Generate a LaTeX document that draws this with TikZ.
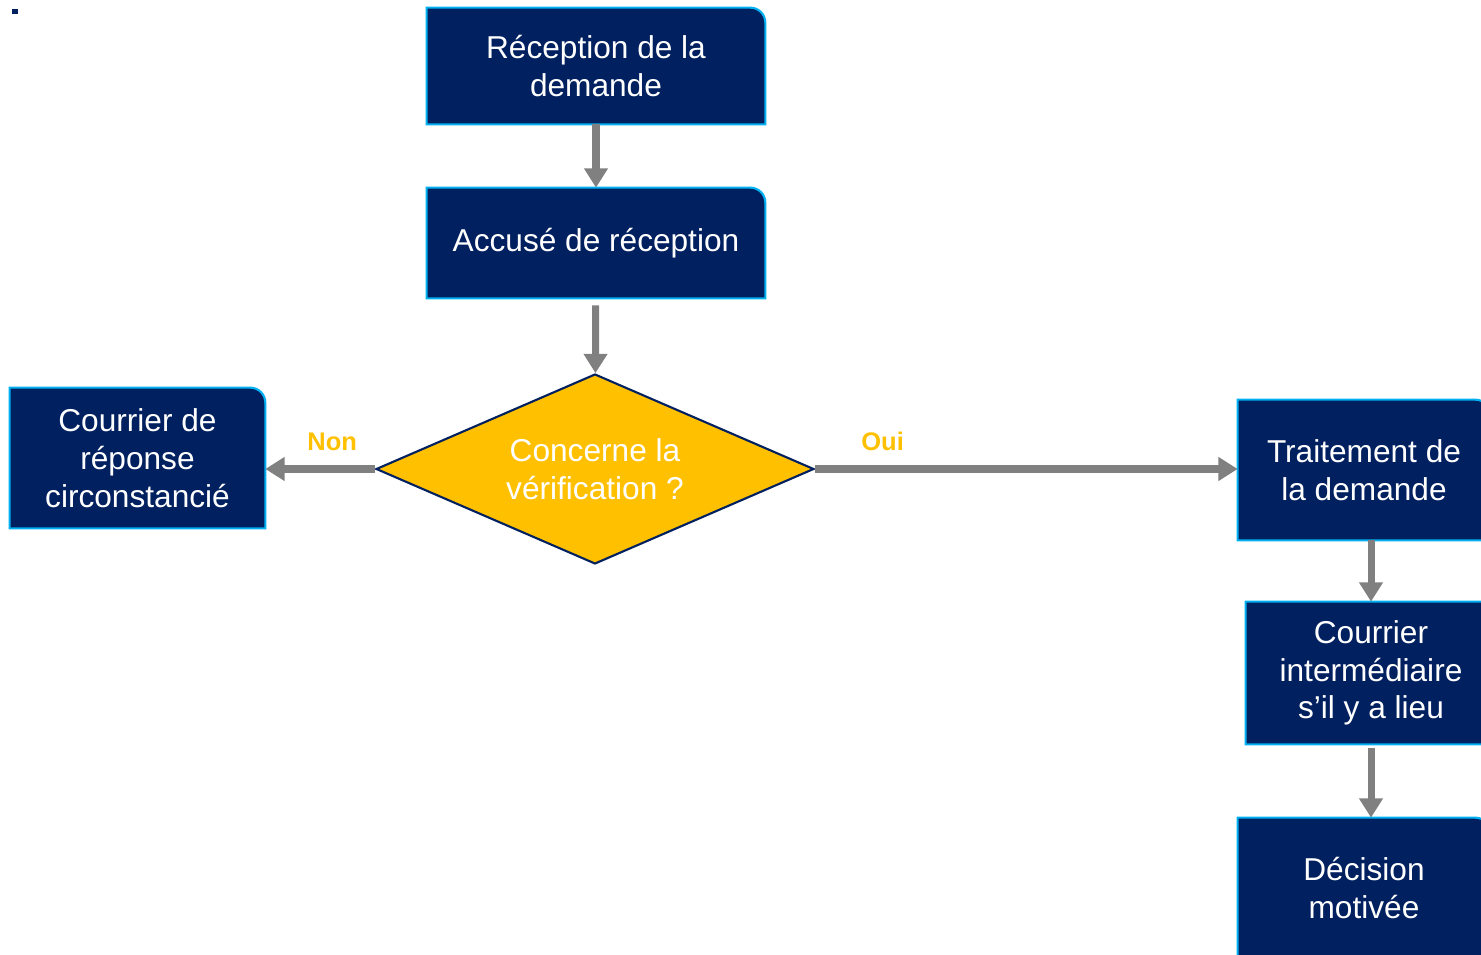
\documentclass[tikz,border=0pt]{standalone}
\usepackage{fontspec}
\setmainfont{Liberation Sans}
\usetikzlibrary{shapes.geometric, arrows.meta, backgrounds}
\definecolor{navyblue}{RGB}{0, 32, 96}
\definecolor{edgeblue}{RGB}{0, 176, 240}
\definecolor{decisionyellow}{RGB}{255, 192, 0}
\definecolor{arrowgray}{RGB}{128, 128, 128}
\tikzstyle{stepbox}=[shape=rectangle, text=white, align=center, inner sep=0pt, font=\fontsize{18}{21.5}\selectfont]
\tikzstyle{boxline}=[fill=navyblue, draw=edgeblue, line width=1.2pt]
\tikzstyle{question}=[shape=diamond, shape aspect=2.3, fill=decisionyellow, draw=navyblue, line width=1.2pt, text=white, align=center, inner sep=0pt, font=\fontsize{18}{21.5}\selectfont]
\tikzstyle{answer}=[text=decisionyellow, font=\bfseries\fontsize{14.5}{17}\selectfont]
\tikzstyle{arrow}=[line width=4pt, draw=arrowgray, -{Triangle[width=13pt, length=11pt]}]

\begin{document}
\begin{tikzpicture}[x=0.02cm, y=0.02cm]
    \useasboundingbox (0,0) rectangle (1481,954);

    % Main column
    \node[stepbox, minimum width=6.76cm, minimum height=2.32cm] (rec) at (596,888) {Réception de la\\demande};
    \node[stepbox, minimum width=6.76cm, minimum height=2.2cm] (acc) at (596,711) {Accusé de réception};
    \node[question, minimum width=8.76cm, minimum height=3.8cm] (ver) at (595,485) {Concerne la\\vérification ?};

    % Answer branches
    \node[stepbox, minimum width=5.1cm, minimum height=2.8cm] (rep) at (137.5,496) {Courrier de\\réponse\\circonstancié};
    \node[stepbox, minimum width=5.04cm, minimum height=2.8cm] (trt) at (1364,484) {Traitement de\\la demande};
    \node[stepbox, minimum width=5.0cm, minimum height=2.84cm] (inter) at (1371,281) {Courrier\\intermédiaire\\s’il y a lieu};
    \node[stepbox, minimum width=5.04cm, minimum height=2.8cm] (dec) at (1364,66) {Décision\\motivée};

    % Box outlines, top right corner rounded
    \begin{scope}[on background layer]
        \foreach \n in {rec, acc, rep, trt, inter, dec}
            \draw[boxline] (\n.south west) -- (\n.north west) -- ([xshift=-0.3cm]\n.north east)
                arc[start angle=90, end angle=0, radius=0.3cm] -- (\n.south east) -- cycle;
    \end{scope}

    \fill[navyblue] (12,940) rectangle (18,945);

    % Flow arrows
    \draw[arrow] (rec) -- (acc);
    \draw[arrow, shorten <=0.14cm] (acc) -- (ver);
    \draw[arrow] (ver.west) -- node[answer, above=5pt, pos=0.39] {Non} (ver.west -| rep.east);
    \draw[arrow] (ver.east) -- node[answer, above=5pt, pos=0.16] {Oui} (ver.east -| trt.west);
    \draw[arrow] (trt.south -| inter.north) -- (inter.north);
    \draw[arrow, shorten <=0.08cm] (inter.south) -- (inter.south |- dec.north);

\end{tikzpicture}
\end{document}
